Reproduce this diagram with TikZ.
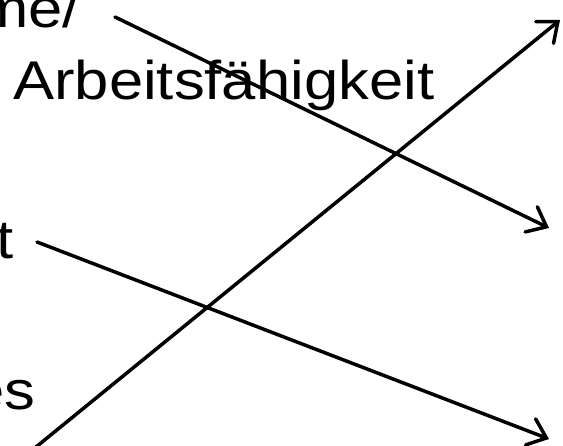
\documentclass[tikz,border=0pt]{standalone}
\usepackage{fontspec}
\setmainfont{Liberation Sans}[FakeStretch=1.13]
\usetikzlibrary{arrows.meta}
\begin{document}
\begin{tikzpicture}[x=1pt,y=-1pt,
  lbl/.style={inner sep=0pt,font=\fontsize{54.5}{60}\selectfont},
  arr/.style={line width=3.5pt,line cap=round,-{Straight Barb[length=17pt,width=28pt,line cap=round]}}]
\useasboundingbox (0,0) rectangle (563,446);
\node[lbl,anchor=base east] (me) at (80,28) {me/};
\node[lbl,anchor=base west] (arb) at (13,100) {Arbeitsfähigkeit};
\node[lbl,anchor=base east] (t) at (14,259) {t};
\node[lbl,anchor=base east] (es) at (36,410) {es};
\coordinate (a1s) at (115,17);
\coordinate (a1e) at (549,228);
\coordinate (a2s) at (37,242);
\coordinate (a2e) at (549,439);
\coordinate (a3s) at (36,447);
\coordinate (a3e) at (560,20);
\draw[arr] (a1s) -- (a1e);
\draw[arr] (a2s) -- (a2e);
\draw[arr] (a3s) -- (a3e);
\end{tikzpicture}
\end{document}
